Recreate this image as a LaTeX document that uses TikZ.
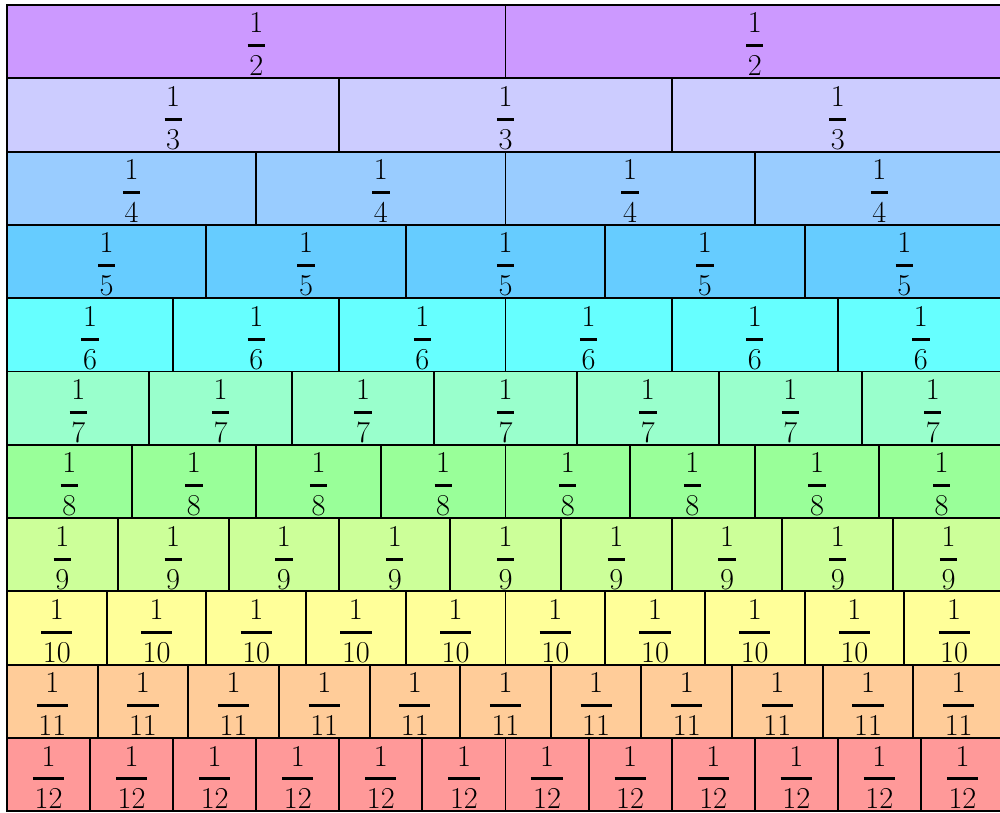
\documentclass[tikz,border=0pt]{standalone}
\usepackage{amsmath}
\usepackage{xcolor}
\definecolor{strip2}{HTML}{CC99FF}
\definecolor{strip3}{HTML}{CCCCFF}
\definecolor{strip4}{HTML}{99CCFF}
\definecolor{strip5}{HTML}{66CCFF}
\definecolor{strip6}{HTML}{66FFFF}
\definecolor{strip7}{HTML}{99FFCC}
\definecolor{strip8}{HTML}{99FF99}
\definecolor{strip9}{HTML}{CCFF99}
\definecolor{strip10}{HTML}{FFFF99}
\definecolor{strip11}{HTML}{FFCC99}
\definecolor{strip12}{HTML}{FF9999}

\begin{document}
\begin{tikzpicture}[
  x=0.2mm, y=-0.2mm,
  cell/.style={draw=black, line width=1.1pt, inner sep=0pt,
               minimum height=14.66mm},
  frac/.style={anchor=base, inner sep=0pt,
               font=\fontsize{18}{22}\selectfont}
]
\useasboundingbox (0,0) rectangle (1000,812);
\clip (0,0) rectangle (1000,812);
\foreach \n [count=\r from 0] in {2,...,12} {
  \pgfmathsetmacro{\w}{997/\n}
  \pgfmathsetmacro{\cellw}{\w*0.2}
  \foreach \k in {1,...,\n} {
    \node[cell, fill=strip\n, minimum width=\cellw mm] (c\n-\k)
      at ({7+(\k-0.5)*\w}, {5+(\r+0.5)*73.3}) {};
    \node[frac] (f\n-\k) at ([yshift=-9.9mm]c\n-\k.north)
      {$\genfrac{}{}{1.7pt}{0}{\rule[-1.4pt]{0pt}{0pt}1}{\mkern1mu\n\mkern1mu}$};
  }
}
\end{tikzpicture}
\end{document}
